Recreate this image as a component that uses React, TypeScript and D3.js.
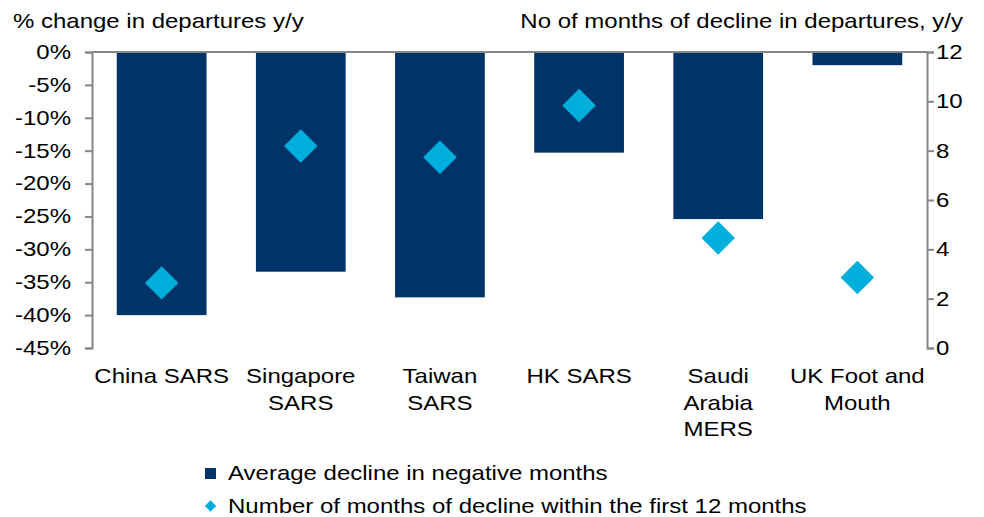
import { useEffect, useRef } from "react";
import * as d3 from "d3";

const categories = [
  ["China SARS"],
  ["Singapore", "SARS"],
  ["Taiwan", "SARS"],
  ["HK SARS"],
  ["Saudi", "Arabia", "MERS"],
  ["UK Foot and", "Mouth"],
];
const avgDecline = [-40, -33.4, -37.3, -15.3, -25.4, -2.0];
const monthsDecline = [2.64, 8.19, 7.73, 9.83, 4.46, 2.86];
const leftTicks = [0, -5, -10, -15, -20, -25, -30, -35, -40, -45];
const rightTicks = [0, 2, 4, 6, 8, 10, 12];
const seriesNames = [
  "Average decline in negative months",
  "Number of months of decline within the first 12 months",
];

const BAR_COL = "#003468";
const DOT_COL = "#00AEDB";
const AXIS_COL = "#868686";
const FONT = "'Liberation Sans', Arial, sans-serif";
// the source text is a bit wider than Arial, stretch it
const SX = 1.2;

function App() {
  const ref = useRef<SVGSVGElement>(null);

  useEffect(() => {
    if (!ref.current) return;
    const svg = d3.select(ref.current);
    svg.selectAll("*").remove();

    const margin = { top: 52, left: 92, right: 927, bottom: 348 };

    const x = d3
      .scaleBand<number>()
      .domain(categories.map((_, i) => i))
      .range([margin.left, margin.right])
      .paddingInner(0.355)
      .paddingOuter(0.178);
    const y = d3.scaleLinear().domain([-45, 0]).range([margin.bottom, margin.top]);
    const y2 = d3.scaleLinear().domain([0, 12]).range([margin.bottom, margin.top]);

    const g = svg.append("g").style("font-family", FONT).style("font-size", "20px");

    const label = (px: number, py: number, txt: string, anchor = "start") =>
      g
        .append("text")
        .attr("transform", `translate(${px},${py}) scale(${SX},1)`)
        .attr("text-anchor", anchor)
        .attr("fill", "#000")
        .text(txt);

    // bars
    g.selectAll("rect.bar")
      .data(avgDecline)
      .enter()
      .append("rect")
      .attr("class", "bar")
      .attr("x", (_, i) => x(i)!)
      .attr("width", x.bandwidth())
      .attr("y", y(0))
      .attr("height", (d) => y(d) - y(0))
      .attr("fill", BAR_COL);

    // diamonds
    const diamond = d3.symbol().type(d3.symbolSquare).size(560);
    g.selectAll("path.dot")
      .data(monthsDecline)
      .enter()
      .append("path")
      .attr("class", "dot")
      .attr("d", diamond)
      .attr(
        "transform",
        (d, i) => `translate(${x(i)! + x.bandwidth() / 2},${y2(d)}) rotate(45)`
      )
      .attr("fill", DOT_COL);

    // left axis
    const left = g
      .append("g")
      .attr("transform", `translate(${margin.left},0)`)
      .call(
        d3
          .axisLeft(y)
          .tickValues(leftTicks)
          .tickSize(7)
          .tickFormat((d) => `${d}%`)
      );
    left
      .selectAll<SVGTextElement, number>("text")
      .attr("x", 0)
      .attr("transform", `translate(-21,0) scale(${SX},1)`);

    // right axis
    const right = g
      .append("g")
      .attr("transform", `translate(${margin.right},0)`)
      .call(d3.axisRight(y2).tickValues(rightTicks).tickSize(7));
    right
      .selectAll<SVGTextElement, number>("text")
      .attr("x", 0)
      .attr("transform", `translate(9,0) scale(${SX},1)`);

    [left, right].forEach((a) => {
      a.selectAll("path").attr("stroke", AXIS_COL).attr("stroke-width", 2);
      a.selectAll("line").attr("stroke", AXIS_COL).attr("stroke-width", 2);
      a.selectAll("text")
        .attr("fill", "#000")
        .style("font-size", "20px")
        .style("font-family", FONT);
    });

    // zero line across top
    g.append("line")
      .attr("x1", margin.left)
      .attr("x2", margin.right)
      .attr("y1", y(0))
      .attr("y2", y(0))
      .attr("stroke", AXIS_COL)
      .attr("stroke-width", 2);

    // category labels
    categories.forEach((lines, i) => {
      lines.forEach((t, j) => {
        label(x(i)! + x.bandwidth() / 2, 383 + j * 26.5, t, "middle");
      });
    });

    // axis titles
    label(13, 28, "% change in departures y/y");
    label(963, 28, "No of months of decline in departures, y/y", "end");

    // legend
    g.append("rect")
      .attr("x", 205)
      .attr("y", 468)
      .attr("width", 11)
      .attr("height", 11)
      .attr("fill", BAR_COL);
    g.append("path")
      .attr("d", d3.symbol().type(d3.symbolSquare).size(64)())
      .attr("transform", "translate(210.5,506) rotate(45)")
      .attr("fill", DOT_COL);
    seriesNames.forEach((s, i) => label(228, 480 + i * 33, s));
  }, []);

  return (
    <div style={{ position: "absolute", left: 0, top: 0 }}>
      <svg ref={ref} width={984} height={517} style={{ display: "block", background: "#fff" }} />
    </div>
  );
}

export default App;
